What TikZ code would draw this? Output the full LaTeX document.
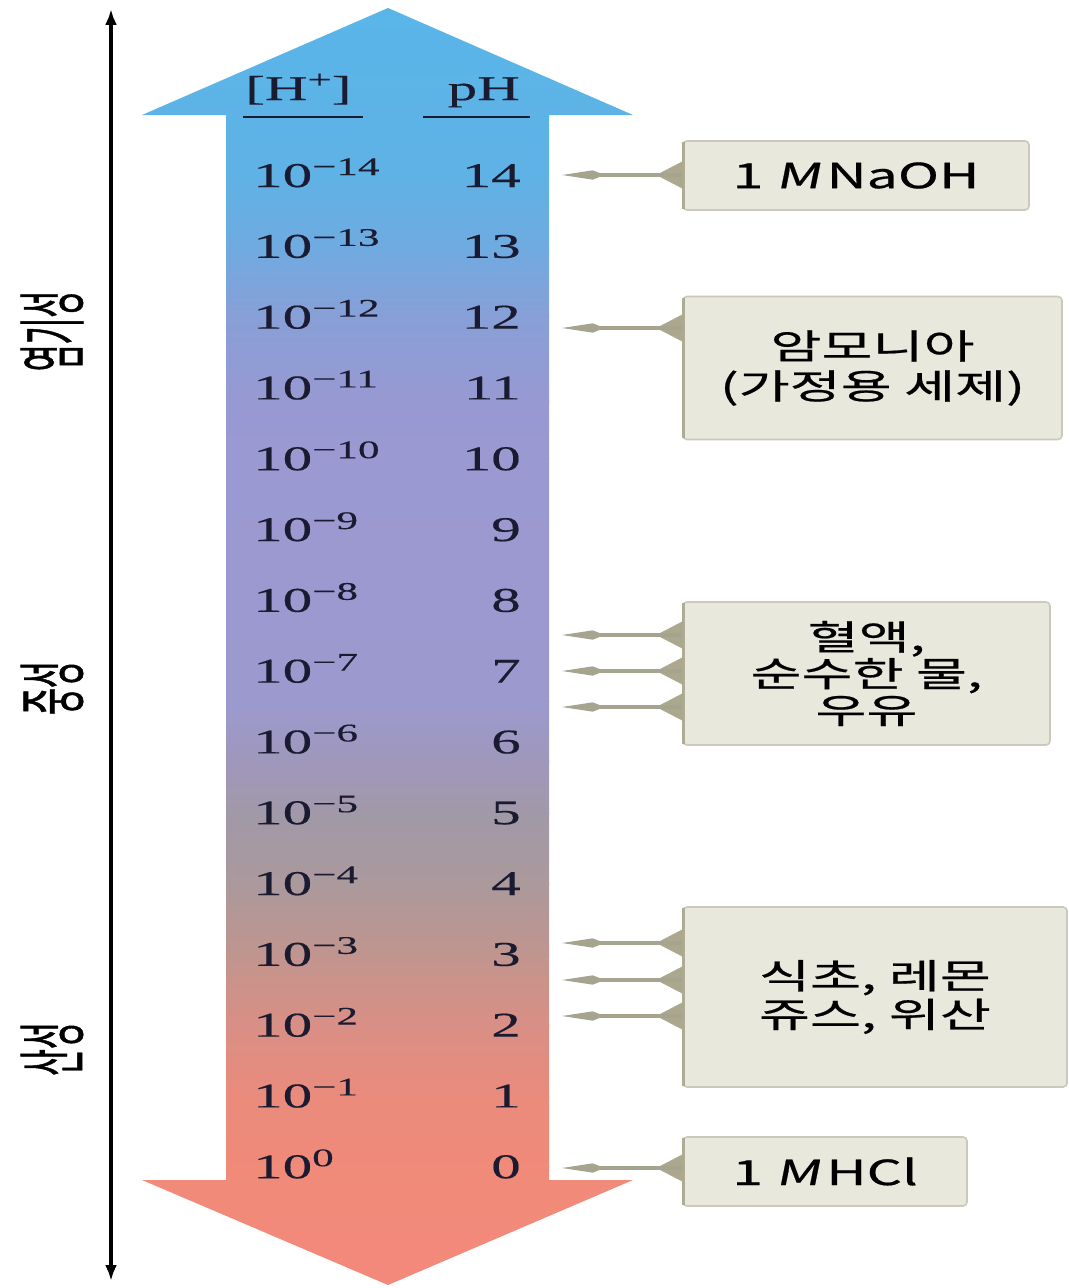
\documentclass[tikz,border=0pt]{standalone}
\usepackage{fontspec}
\setmainfont{Liberation Serif}
\newfontfamily\numfont[FakeStretch=1.7,FakeBold=0.4]{Liberation Serif}
\newfontfamily\boxfont[FakeStretch=1.6,AutoFakeSlant=0.2,FakeBold=0.6]{Noto Sans CJK KR}
\newfontfamily\sidefont[FakeStretch=0.42,FakeBold=0.6]{Noto Sans CJK KR}
\usetikzlibrary{arrows.meta,calc}
\definecolor{s0}{HTML}{59B5E8}
\definecolor{s1}{HTML}{5FB2E5}
\definecolor{s2}{HTML}{70AAE0}
\definecolor{s3}{HTML}{889FD7}
\definecolor{s4}{HTML}{9799D2}
\definecolor{s5}{HTML}{9B99D1}
\definecolor{s6}{HTML}{9C99CF}
\definecolor{s7}{HTML}{9F98BC}
\definecolor{s8}{HTML}{A199A8}
\definecolor{s9}{HTML}{AB999C}
\definecolor{s10}{HTML}{C0958E}
\definecolor{s11}{HTML}{D98F85}
\definecolor{s12}{HTML}{EA8B7C}
\definecolor{s13}{HTML}{F08A79}
\definecolor{s14}{HTML}{F3897A}
\definecolor{ink}{HTML}{1A1A30}
\definecolor{boxfill}{HTML}{E9E8DD}
\definecolor{boxedge}{HTML}{CBC9BC}
\definecolor{boxleft}{HTML}{AEAC95}
\definecolor{ptrline}{HTML}{A5A48E}
\definecolor{ptrtri}{HTML}{ABA88D}
\newcommand\pw[1]{10\raisebox{9pt}{\fontsize{19}{19}\selectfont #1}}
\newcommand\callout[2]{%
  \fill[ptrtri] ($(#1.west |- #2)+(1,-14)$) -- ($(#1.west |- #2)+(-26,0)$) -- ($(#1.west |- #2)+(1,14)$) -- cycle;
  \draw[ptr] (#1.west |- #2) -- (#2);}
\begin{document}
\begin{tikzpicture}[x=0.75pt,y=-0.75pt,
  numtxt/.style={text=ink,inner sep=0pt,font=\numfont\fontsize{26}{30}\selectfont},
  rule/.style={ink,line width=1.5pt},
  infobox/.style={draw=boxedge,line width=1.2pt,fill=boxfill,rounded corners=3pt,inner sep=0pt,
    align=center,text=black,font=\boxfont\fontsize{26}{29}\selectfont},
  ptr/.style={ptrline,line width=2.4pt,-{Kite[length=32pt,width=7pt,inset=9pt]}},
  sidelabel/.style={rotate=90,text=black,inner sep=0pt,font=\sidefont\fontsize{52}{52}\selectfont},
  axisline/.style={black,line width=2.6pt,{Latex[length=12pt,width=9pt]}-{Latex[length=12pt,width=9pt]}}]
\useasboundingbox (0,0) rectangle (1068,1288);
\fill[white] (0,0) rectangle (1068,1288);

% big double arrow with gradient
\begin{scope}
\clip (388,8) -- (633,115) -- (549,115) -- (549,1180) -- (633,1180) -- (388,1285)
  -- (142,1180) -- (226,1180) -- (226,115) -- (142,115) -- cycle;
\foreach \ya/\ca/\yb/\cb in {0/s0/175/s1,175/s1/250/s2,250/s2/316/s3,316/s3/400/s4,400/s4/458/s5,
  458/s5/700/s6,700/s6/760/s7,760/s7/812/s8,812/s8/883/s9,883/s9/954/s10,954/s10/1024/s11,
  1024/s11/1096/s12,1096/s12/1166/s13,1166/s13/1288/s14}
  \shade[top color=\ca,bottom color=\cb] (130,\ya) rectangle (640,\yb+1);
\end{scope}

% header
\node[numtxt,anchor=base west] (hh) at (245,100) {[H\raisebox{9pt}{\fontsize{19}{19}\selectfont +}]};
\node[numtxt,anchor=base east] (hp) at (520,100) {pH};
\draw[rule] (243,117) -- (363,117);
\draw[rule] (423,117) -- (530,117);

% rows
\foreach \k in {0,...,14}{
  \pgfmathsetmacro\yy{187+(14-\k)*70.8}
  \ifnum\k=0
    \node[numtxt,anchor=base west] (h\k) at (253,\yy) {\pw{0}};
  \else
    \node[numtxt,anchor=base west] (h\k) at (253,\yy) {\pw{−\k}};
  \fi
  \node[numtxt,anchor=base east] (p\k) at (521,\yy) {\k};
}

% left axis and labels
\coordinate (axtop) at (111,9);
\coordinate (axbot) at (111,1281);
\draw[axisline] (axbot) -- (axtop);
\node[sidelabel] (basic) at (52,331) {염기성};
\node[sidelabel] (neutral) at (52,688) {중성};
\node[sidelabel] (acidic) at (52,1049) {산성};

% boxes
\node[infobox,minimum width=259.5pt,minimum height=51.75pt] (b1) at (856,175.5) {1 \textit{M}\,NaOH};
\node[infobox,minimum width=284.25pt,minimum height=107.25pt,
  font=\boxfont\fontsize{26}{30}\selectfont] (b2) at (872.5,368) {암모니아\\(가정용 세제)};
\node[infobox,minimum width=275.25pt,minimum height=107.25pt,
  font=\boxfont\fontsize{26}{27.5}\selectfont] (b3) at (866.5,673.5) {혈액,\\순수한 물,\\우유};
\node[infobox,minimum width=288pt,minimum height=135pt] (b4) at (875,997) {식초, 레몬\\쥬스, 위산};
\node[infobox,minimum width=213pt,minimum height=51.75pt] (b5) at (825,1171.5) {1 \textit{M}\,HCl};
\foreach \b in {b1,b2,b3,b4,b5}
  \draw[boxleft,line width=2.2pt] ($(\b.north west)+(1,2)$) -- ($(\b.south west)+(1,-2)$);

% pointer tips
\coordinate (t1) at (562,175);
\coordinate (t2) at (562,328);
\coordinate (t3) at (562,635);
\coordinate (t4) at (562,671);
\coordinate (t5) at (562,707);
\coordinate (t6) at (562,943);
\coordinate (t7) at (562,980);
\coordinate (t8) at (562,1016);
\coordinate (t9) at (562,1168);
\callout{b1}{t1}
\callout{b2}{t2}
\callout{b3}{t3}
\callout{b3}{t4}
\callout{b3}{t5}
\callout{b4}{t6}
\callout{b4}{t7}
\callout{b4}{t8}
\callout{b5}{t9}
\end{tikzpicture}
\end{document}
